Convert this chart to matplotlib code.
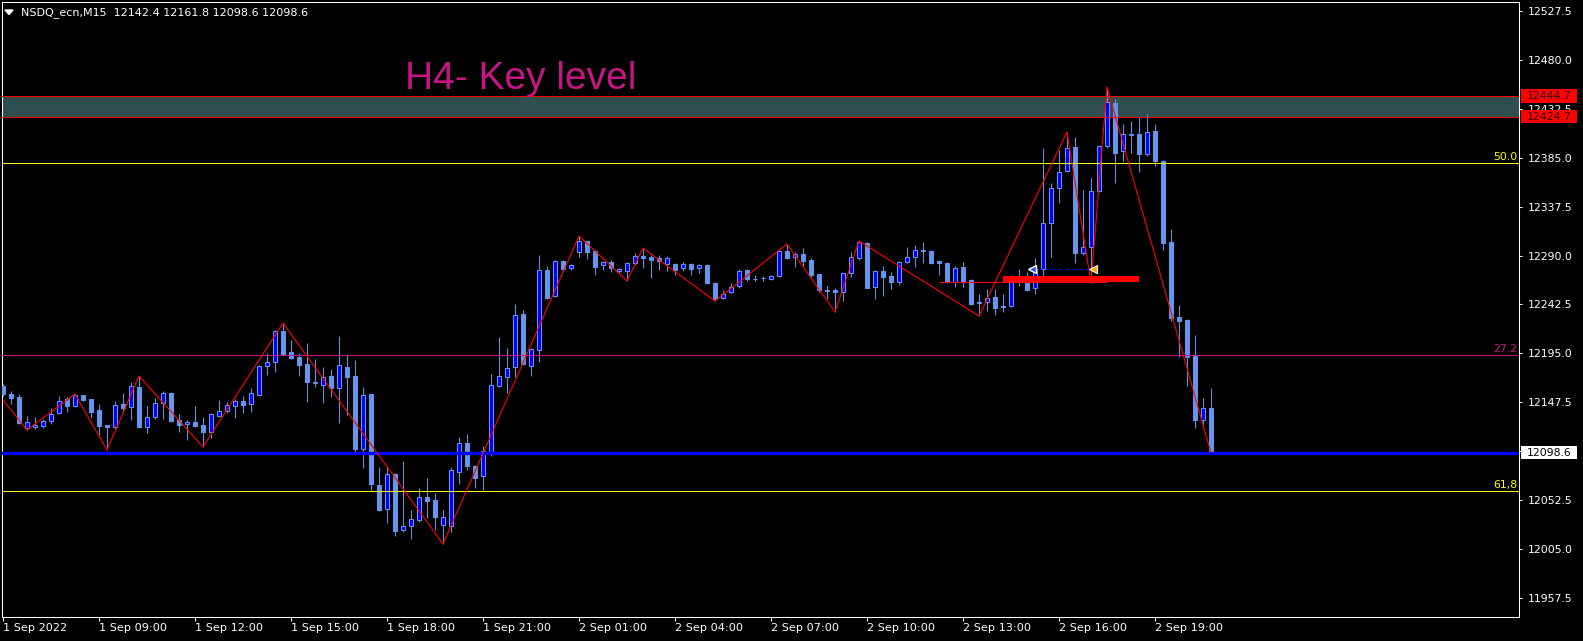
import numpy as np
import matplotlib.pyplot as plt
import matplotlib.transforms as mtransforms
from matplotlib.patches import Rectangle, Polygon

# NSDQ_ecn M15 bars, 1 Sep 2022 06:00 -> 2 Sep 2022 20:45
opens = [12163.4, 12155.6, 12152.7, 12122.6, 12123.6, 12124.5, 12129.4, 12137.1, 12150.7, 12143.9,
         12154.6, 12150.7, 12140.1, 12125.5, 12123.6, 12145.9, 12143.0, 12162.4, 12123.6, 12133.3,
         12146.8, 12156.6, 12130.4, 12126.5, 12128.4, 12125.5, 12118.7, 12134.2, 12139.1, 12143.9,
         12148.8, 12145.9, 12154.6, 12182.8, 12186.6, 12216.7, 12196.3, 12191.5, 12184.7, 12167.2,
         12164.3, 12173.1, 12161.4, 12181.8, 12173.1, 12102.2, 12155.6, 12067.3, 12044.0, 12077.9,
         12023.6, 12027.5, 12033.3, 12055.6, 12052.7, 12028.4, 12027.5, 12079.9, 12108.0, 12085.7,
         12076.0, 12099.3, 12163.4, 12172.1, 12181.8, 12233.2, 12182.8, 12198.3, 12275.9, 12250.7,
         12284.7, 12277.9, 12293.4, 12304.1, 12294.4, 12280.8, 12283.7, 12275.0, 12275.0, 12282.7,
         12289.5, 12288.6, 12287.6, 12281.8, 12281.8, 12277.9, 12281.8, 12277.9, 12280.8, 12263.3,
         12248.8, 12254.6, 12260.4, 12275.9, 12267.2, 12268.2, 12267.2, 12270.1, 12294.4, 12288.6,
         12291.5, 12285.6, 12272.1, 12256.5, 12256.5, 12254.6, 12273.0, 12287.6, 12302.1, 12259.4,
         12275.0, 12270.1, 12264.3, 12283.7, 12288.6, 12294.4, 12294.4, 12284.7, 12282.7, 12264.3,
         12278.9, 12266.2, 12244.9, 12244.9, 12249.7, 12241.0, 12241.0, 12268.2, 12265.3, 12258.5,
         12276.9, 12321.6, 12355.5, 12372.0, 12395.3, 12292.4, 12298.3, 12352.6, 12396.3, 12438.0,
         12391.4, 12407.9, 12407.9, 12388.5, 12410.9, 12381.7, 12303.1, 12230.3, 12227.4, 12192.5,
         12130.4, 12142.4]
highs = [12165.3, 12158.5, 12155.6, 12134.2, 12133.3, 12131.3, 12142.0, 12153.6, 12152.7, 12155.6,
         12155.0, 12150.7, 12145.9, 12125.5, 12148.8, 12156.6, 12167.2, 12173.1, 12143.9, 12151.7,
         12158.5, 12157.5, 12136.2, 12130.4, 12143.9, 12133.3, 12137.1, 12149.8, 12147.8, 12150.7,
         12153.6, 12161.4, 12183.7, 12195.4, 12217.7, 12224.5, 12208.0, 12195.4, 12205.1, 12189.6,
         12181.8, 12179.9, 12211.9, 12194.4, 12188.6, 12162.4, 12156.0, 12084.7, 12084.7, 12078.9,
         12090.6, 12043.0, 12064.4, 12074.1, 12059.5, 12043.0, 12084.7, 12113.9, 12116.8, 12086.2,
         12105.1, 12175.0, 12210.9, 12200.2, 12242.9, 12237.1, 12200.0, 12290.5, 12279.8, 12285.6,
         12285.6, 12281.8, 12308.9, 12304.5, 12295.4, 12284.7, 12285.6, 12277.9, 12283.7, 12292.4,
         12297.3, 12290.5, 12290.5, 12289.5, 12282.5, 12283.7, 12282.5, 12281.8, 12281.5, 12264.3,
         12256.5, 12263.3, 12276.9, 12276.9, 12271.1, 12270.1, 12271.1, 12295.4, 12301.2, 12293.4,
         12297.3, 12287.6, 12272.5, 12260.4, 12258.5, 12273.5, 12293.4, 12304.1, 12303.1, 12275.5,
         12279.8, 12274.0, 12284.7, 12298.3, 12300.2, 12303.1, 12295.4, 12285.0, 12283.7, 12279.8,
         12283.7, 12267.2, 12252.6, 12257.5, 12257.5, 12252.6, 12271.1, 12276.9, 12274.0, 12287.6,
         12394.4, 12360.4, 12392.4, 12409.9, 12405.0, 12353.6, 12365.2, 12397.3, 12453.6, 12441.9,
         12417.6, 12420.6, 12424.4, 12427.3, 12417.6, 12382.5, 12315.7, 12242.0, 12228.0, 12212.9,
         12151.7, 12161.8]
lows = [12153.6, 12145.9, 12126.5, 12120.6, 12121.6, 12122.6, 12126.5, 12136.2, 12138.1, 12143.0,
        12148.8, 12132.3, 12115.8, 12101.2, 12121.6, 12138.1, 12130.4, 12122.6, 12117.7, 12131.3,
        12131.3, 12128.4, 12118.7, 12110.9, 12123.6, 12104.1, 12112.9, 12133.3, 12137.1, 12132.3,
        12137.1, 12138.1, 12153.6, 12174.0, 12176.9, 12193.5, 12189.6, 12173.1, 12147.8, 12162.4,
        12146.8, 12152.7, 12127.4, 12135.2, 12099.3, 12083.8, 12062.4, 12042.0, 12030.4, 12017.8,
        12021.6, 12014.9, 12031.4, 12035.2, 12023.6, 12010.0, 12021.6, 12068.2, 12081.8, 12064.4,
        12062.4, 12095.4, 12162.4, 12156.6, 12172.1, 12183.7, 12173.1, 12186.6, 12247.8, 12250.0,
        12275.9, 12275.9, 12288.6, 12286.6, 12271.1, 12275.9, 12274.0, 12273.0, 12265.3, 12280.8,
        12277.9, 12268.2, 12275.9, 12275.0, 12271.1, 12275.0, 12271.1, 12273.0, 12262.3, 12245.8,
        12247.8, 12253.6, 12258.5, 12265.3, 12265.3, 12265.3, 12266.2, 12269.1, 12287.0, 12278.9,
        12279.8, 12269.1, 12254.6, 12247.8, 12235.2, 12245.8, 12269.1, 12285.6, 12258.0, 12247.8,
        12250.7, 12257.5, 12261.4, 12282.7, 12278.9, 12282.7, 12281.8, 12271.1, 12263.3, 12259.4,
        12259.4, 12242.0, 12231.3, 12236.1, 12232.3, 12235.2, 12240.0, 12260.4, 12255.6, 12252.6,
        12266.2, 12288.6, 12341.0, 12371.1, 12282.7, 12290.5, 12263.3, 12351.6, 12394.4, 12360.4,
        12381.7, 12389.5, 12371.1, 12386.6, 12376.9, 12295.4, 12226.4, 12191.5, 12163.4, 12122.6,
        12122.6, 12098.6]
closes = [12155.6, 12151.7, 12127.4, 12128.4, 12125.5, 12129.4, 12136.2, 12148.8, 12143.9, 12154.6,
          12149.8, 12138.1, 12124.5, 12123.6, 12144.9, 12142.0, 12163.4, 12123.6, 12133.3, 12146.8,
          12156.6, 12129.4, 12125.5, 12128.4, 12124.5, 12118.7, 12136.2, 12139.1, 12144.9, 12148.8,
          12144.9, 12156.6, 12182.8, 12186.6, 12217.0, 12194.4, 12190.5, 12183.7, 12167.2, 12166.3,
          12172.1, 12161.4, 12183.7, 12172.1, 12102.2, 12154.6, 12068.2, 12043.0, 12077.9, 12022.6,
          12027.5, 12034.3, 12055.6, 12051.7, 12036.2, 12036.2, 12081.8, 12108.0, 12085.7, 12074.1,
          12100.3, 12164.3, 12173.1, 12180.8, 12232.3, 12184.7, 12199.3, 12275.9, 12248.8, 12284.7,
          12276.9, 12280.8, 12304.1, 12293.4, 12278.9, 12283.7, 12277.9, 12276.9, 12282.7, 12289.5,
          12287.6, 12285.6, 12284.7, 12287.6, 12275.9, 12281.8, 12276.9, 12280.8, 12263.3, 12247.8,
          12252.6, 12259.4, 12275.0, 12267.2, 12266.8, 12267.8, 12270.1, 12294.4, 12287.6, 12291.5,
          12284.7, 12271.1, 12256.5, 12256.0, 12254.6, 12273.0, 12288.6, 12303.5, 12258.5, 12275.0,
          12269.1, 12264.3, 12283.7, 12288.6, 12295.4, 12295.4, 12282.7, 12282.7, 12264.3, 12277.9,
          12265.3, 12242.9, 12243.9, 12248.8, 12239.1, 12240.0, 12269.1, 12265.3, 12256.5, 12276.9,
          12321.6, 12355.5, 12371.1, 12394.4, 12292.4, 12298.3, 12352.6, 12396.3, 12439.0, 12389.5,
          12407.9, 12407.4, 12388.5, 12409.9, 12381.7, 12302.1, 12229.3, 12226.4, 12191.5, 12130.4,
          12142.0, 12098.6]

# zigzag: bar index of each swing, and whether it is a low ('L') or high ('H')
zz_start = (0, 12149.8)
zz_bars = [3, 9, 13, 17, 25, 35, 55, 72, 78, 80, 89, 98, 104, 107, 122, 133, 136, 138, 151]
zz_kind = ['L', 'H', 'L', 'H', 'L', 'H', 'L', 'H', 'L', 'H', 'L', 'H', 'L', 'H', 'L', 'H', 'L', 'H', 'L']

# levels
zone_top = 12444.7
zone_bottom = 12424.7
fib_levels = [12379.8, 12193.4, 12061.1]
fib_names = ['50.0', '27.2', '61,8']
fib_colors = ['#FFFF00', '#C71585', '#FFFF00']
bid = 12098.6
red_bar = (125, 142, 12264.3, 12270.1)   # bar from, bar to, low, high
red_line = (117, 138, 12264.3)
trade_open = (128.6, 12277.0)
trade_close = (136.3, 12277.0)

price_ticks = [11957.5, 12005.0, 12052.5, 12100.0, 12147.5, 12195.0, 12242.5,
               12290.0, 12337.5, 12385.0, 12432.5, 12480.0, 12527.5]
time_bars = [0, 12, 24, 36, 48, 60, 72, 84, 96, 108, 120, 132, 144]
time_labels = ['1 Sep 2022', '1 Sep 09:00', '1 Sep 12:00', '1 Sep 15:00', '1 Sep 18:00',
               '1 Sep 21:00', '2 Sep 01:00', '2 Sep 04:00', '2 Sep 07:00', '2 Sep 10:00',
               '2 Sep 13:00', '2 Sep 16:00', '2 Sep 19:00']

W, H = 1583, 641
fig = plt.figure(figsize=(W / 100, H / 100), dpi=100, facecolor='black')
ax = fig.add_axes([2 / W, 24 / H, 1517 / W, 615 / H], facecolor='black')

x = np.arange(len(opens))
o = np.array(opens); h = np.array(highs); l = np.array(lows); c = np.array(closes)
up = c >= o

wick_col = '#6495ED'
ax.vlines(x, l, h, color=wick_col, lw=0.75, zorder=2)
body_lo = np.minimum(o, c)
body_h = np.maximum(np.abs(c - o), 0.3)
ax.bar(x[up], body_h[up], bottom=body_lo[up], width=0.55, color='#0000FF',
       edgecolor=wick_col, linewidth=0.75, zorder=3)
ax.bar(x[~up], body_h[~up], bottom=body_lo[~up], width=0.55, color=wick_col,
       edgecolor=wick_col, linewidth=0.75, zorder=3)

# key zone
ax.axhspan(zone_bottom, zone_top, color='#2F4F4F', zorder=0.5, lw=0)
ax.axhline(zone_top, color='#FF0000', lw=0.75, zorder=4)
ax.axhline(zone_bottom, color='#FF0000', lw=0.75, zorder=4)

blend = mtransforms.blended_transform_factory(ax.transAxes, ax.transData)
for lvl, name, col in zip(fib_levels, fib_names, fib_colors):
    ax.axhline(lvl, color=col, lw=0.75, zorder=4)
    ax.text(0.999, lvl + 0.8, name, color=col, fontsize=7.8, ha='right', va='bottom',
            transform=blend, zorder=6)

ax.axhline(bid, color='#0000FF', lw=2.4, zorder=4)

# zigzag
zx = [zz_start[0]] + zz_bars
zy = [zz_start[1]] + [lows[b] if k == 'L' else highs[b] for b, k in zip(zz_bars, zz_kind)]
ax.plot(zx, zy, color='#FF0000', lw=0.8, zorder=5)

# order lines / trade marks
ax.hlines(red_line[2], red_line[0], red_line[1], color='#FF0000', lw=0.8, zorder=5)
ax.add_patch(Rectangle((red_bar[0], red_bar[2]), red_bar[1] - red_bar[0],
                       red_bar[3] - red_bar[2], color='#FF0000', zorder=5, lw=0))
ax.plot([trade_open[0], trade_close[0]], [trade_open[1], trade_close[1]],
        color='#0000FF', lw=0.8, ls=(0, (3, 3)), zorder=6)
ax.plot(*trade_open, marker='<', ms=6, mfc='#3050FF', mec='white', mew=1, zorder=7)
ax.plot(*trade_close, marker='<', ms=6, mfc='#FFA500', mec='white', mew=0.8, zorder=7)

ax.set_xlim(-0.125, 189.5)
ax.set_ylim(11939.1, 12536.1)

for s in ax.spines.values():
    s.set_color('white')
    s.set_linewidth(0.75)

ax.yaxis.tick_right()
ax.set_yticks(price_ticks)
ax.set_yticklabels(['%.1f' % v for v in price_ticks])
ax.set_xticks(time_bars)
ax.set_xticklabels(time_labels, ha='left')
ax.tick_params(axis='y', colors='white', labelsize=7.8, length=2.5, width=0.75, pad=3.5)
ax.tick_params(axis='x', colors='white', labelsize=8.1, length=3, width=0.75, pad=1.5)

# price labels on the scale
def scale_label(price, face, txt):
    ax.add_patch(Rectangle((1.0013, price - 6.5), 0.037, 13, transform=blend,
                           facecolor=face, lw=0, clip_on=False, zorder=8))
    ax.text(1.0053, price, '%.1f' % price, color=txt, fontsize=7.8, ha='left',
            va='center', transform=blend, clip_on=False, zorder=9)

scale_label(zone_top, '#FF0000', '#300000')
scale_label(zone_bottom, '#FF0000', '#300000')
scale_label(bid, 'white', 'black')

# header and title
fig.patches.append(Polygon([[5 / W, 1 - 10 / H], [13 / W, 1 - 10 / H], [9 / W, 1 - 14.5 / H]],
                           closed=True, transform=fig.transFigure, color='white'))
fig.text(21 / W, 1 - 12.5 / H,
         'NSDQ_ecn,M15  %.1f %.1f %.1f %.1f' % (opens[-1], highs[-1], lows[-1], closes[-1]),
         color='white', fontsize=8, va='center')
fig.text(405 / W, 1 - 89.3 / H, 'H4- Key level', color='#C71585', fontsize=28,
         family='Liberation Sans', va='baseline')

fig.savefig('out.png', dpi=100, facecolor='black')
